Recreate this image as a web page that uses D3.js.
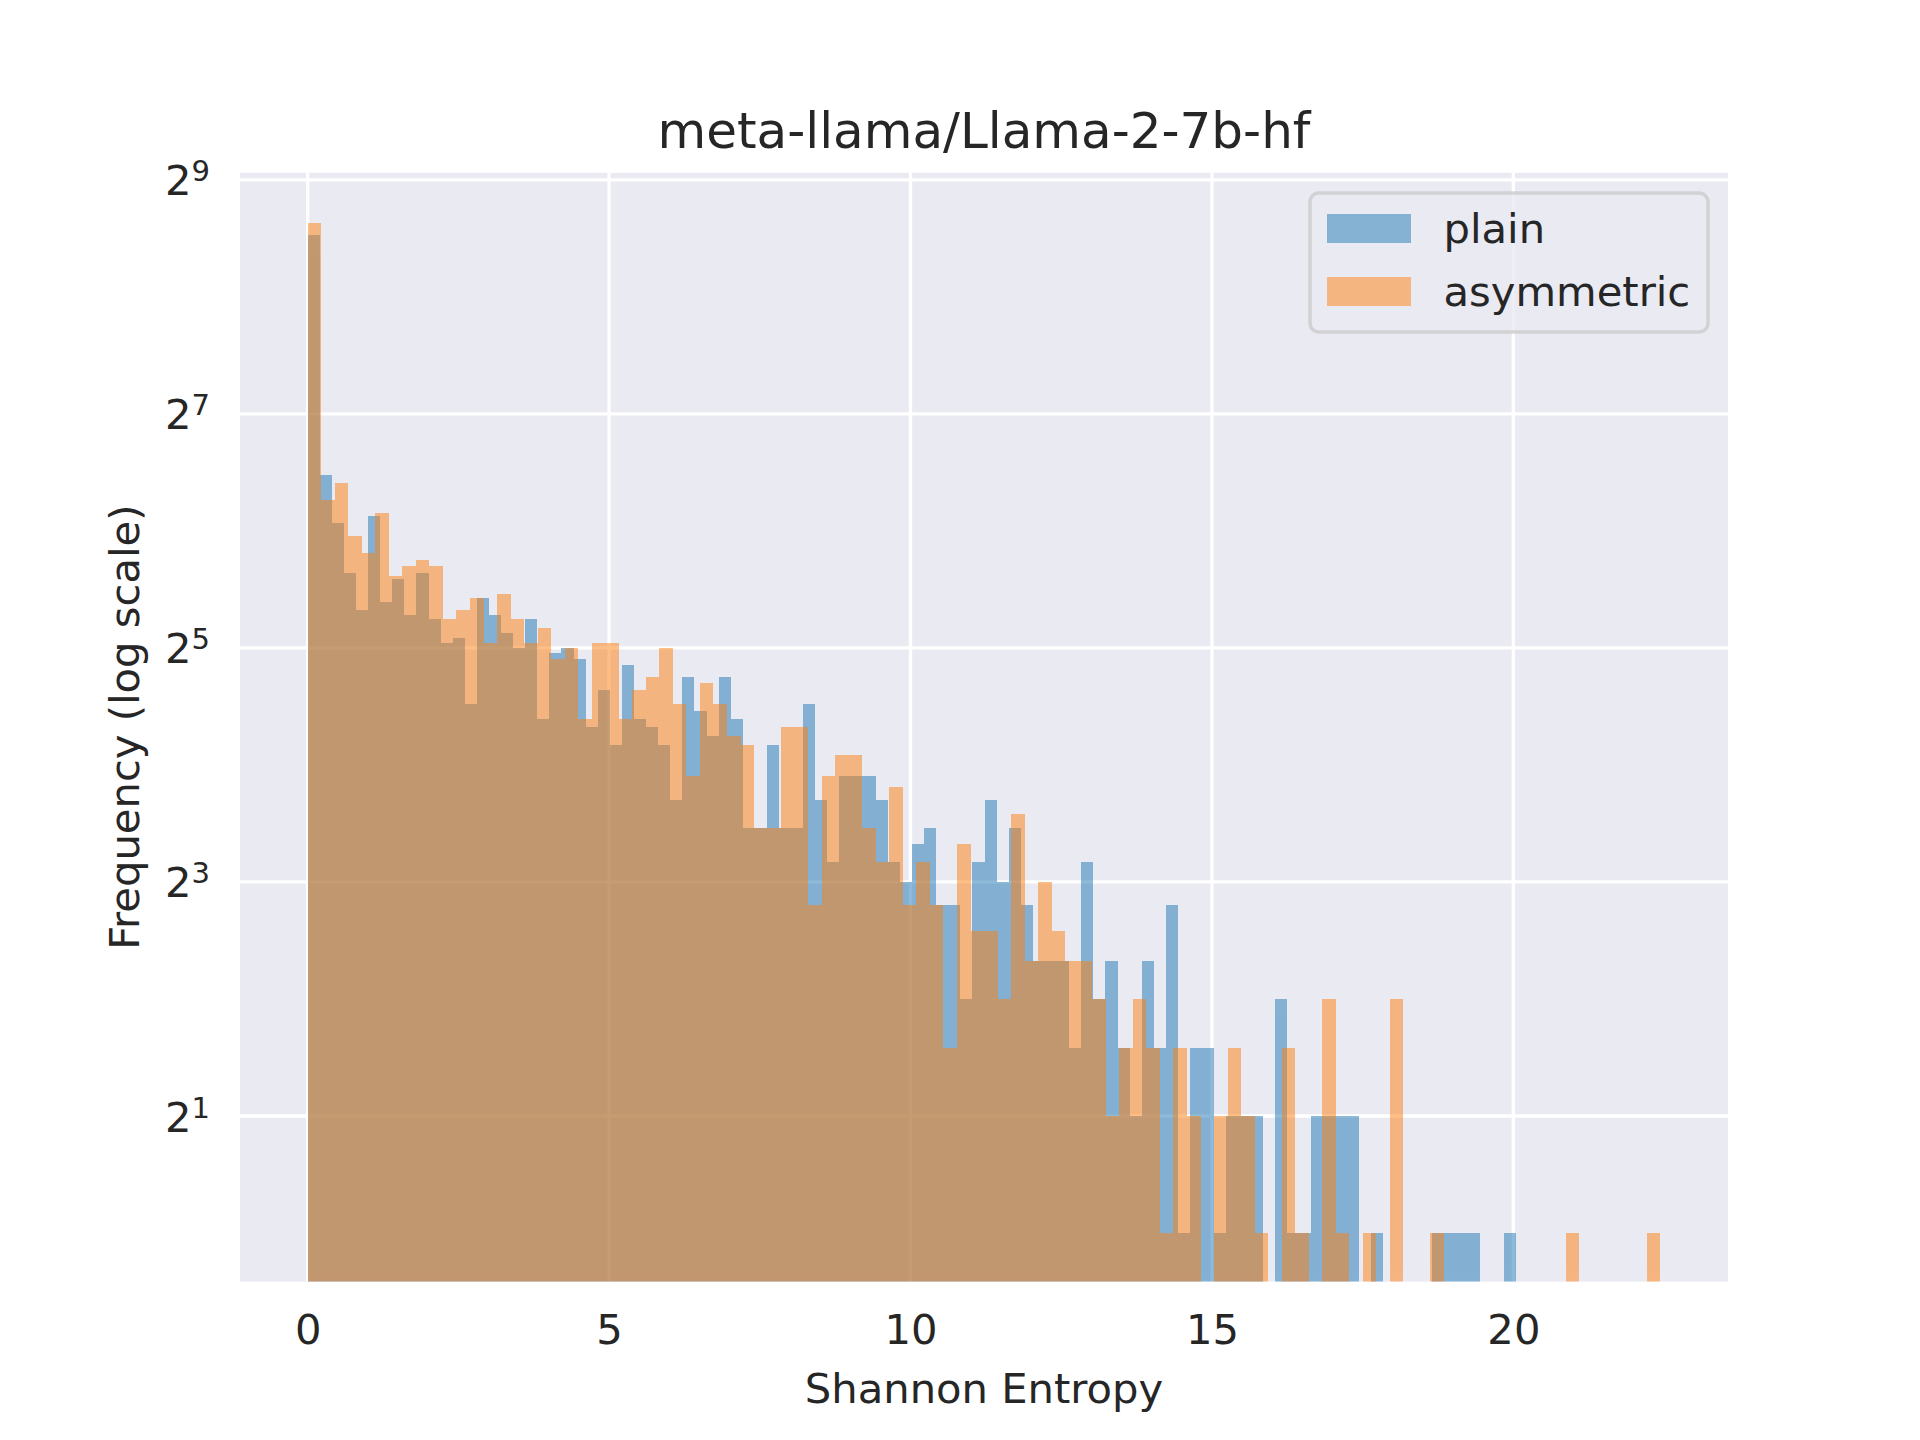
<!DOCTYPE html>
<html>
<head>
<meta charset="utf-8">
<script src="https://cdn.jsdelivr.net/npm/d3@7"></script>
<style>
  body { margin: 0; background: #ffffff; }
  svg { display: block; }
  text { font-family: "DejaVu Sans", sans-serif; fill: #262626; }
</style>
</head>
<body>
<svg id="chart" width="1920" height="1440"></svg>
<script>
// ---------------- data ----------------
const chartTitle = "meta-llama/Llama-2-7b-hf";
const xLabel = "Shannon Entropy";
const yLabel = "Frequency (log scale)";
const seriesNames = ["plain", "asymmetric"];

// histogram ranges (100 bins each)
const plainRange = [0, 20.05];
const asymmetricRange = [0, 22.44];

const plainCounts = [
  370, 89, 67, 50, 40, 70, 42, 48, 39, 50,
  38, 33, 34, 23, 43, 39, 35, 32, 38, 21,
  31, 32, 30, 20, 25, 18, 29, 21, 20, 18,
  13, 27, 22, 19, 27, 21, 11, 11, 18, 11,
  11, 23, 13, 9, 15, 15, 15, 13, 9, 8,
  10, 11, 7, 7, 4, 9, 13, 8, 11, 7,
  5, 5, 5, 3, 9, 4, 5, 3, 2, 5,
  3, 7, 1, 3, 3, 1, 2, 2, 2, 0,
  4, 1, 1, 2, 2, 2, 2, 0, 1, 0,
  0, 0, 0, 1, 1, 1, 1, 0, 0, 1
];

const asymmetricCounts = [
  397, 77, 85, 62, 56, 71, 49, 52, 54, 52,
  38, 40, 43, 33, 44, 38, 33, 36, 30, 32,
  21, 33, 33, 21, 25, 27, 32, 23, 15, 26,
  23, 19, 18, 11, 11, 20, 20, 7, 15, 17,
  17, 11, 9, 14, 7, 9, 7, 3, 10, 6,
  6, 4, 12, 5, 8, 6, 5, 5, 4, 2,
  3, 4, 3, 1, 3, 2, 0, 2, 3, 2,
  1, 0, 3, 1, 0, 4, 1, 0, 1, 0,
  4, 0, 0, 1, 0, 0, 0, 0, 0, 0,
  0, 0, 0, 1, 0, 0, 0, 0, 0, 1
];

const xTicks = [0, 5, 10, 15, 20];
const yTickExponents = [1, 3, 5, 7, 9];

// ---------------- layout ----------------
const W = 1920, H = 1440;
const pL = 240, pR = 1728, pT = 172.8, pB = 1281.6;
const colors = ["#1f77b4", "#ff7f0e"];

const svg = d3.select("#chart");
svg.append("rect").attr("width", W).attr("height", H).attr("fill", "#ffffff");

const x = d3.scaleLinear().domain([-1.122, 23.56]).range([pL, pR]);
const y = d3.scaleLog().base(2)
  .domain([Math.pow(2, -0.415), Math.pow(2, 9.06)])
  .range([pB, pT]);

svg.append("defs").append("clipPath").attr("id", "plotClip")
  .append("rect").attr("x", pL).attr("y", pT)
  .attr("width", pR - pL).attr("height", pB - pT);

// axes background
svg.append("rect")
  .attr("x", pL).attr("y", pT)
  .attr("width", pR - pL).attr("height", pB - pT)
  .attr("fill", "#eaeaf2");

// grid
const grid = svg.append("g").attr("clip-path", "url(#plotClip)");
grid.selectAll("line.vx").data(xTicks).join("line")
  .attr("class", "vx")
  .attr("x1", d => x(d)).attr("x2", d => x(d))
  .attr("y1", pT).attr("y2", pB)
  .attr("stroke", "#ffffff").attr("stroke-width", 3.3);
grid.selectAll("line.hy").data(yTickExponents).join("line")
  .attr("class", "hy")
  .attr("x1", pL).attr("x2", pR)
  .attr("y1", d => y(Math.pow(2, d))).attr("y2", d => y(Math.pow(2, d)))
  .attr("stroke", "#ffffff").attr("stroke-width", 3.3);

// histogram bins
function makeBins(range, counts) {
  const n = counts.length;
  const w = (range[1] - range[0]) / n;
  return counts.map((c, i) => ({ x0: range[0] + i * w, x1: range[0] + (i + 1) * w, count: c }));
}
const seriesBins = [makeBins(plainRange, plainCounts), makeBins(asymmetricRange, asymmetricCounts)];

const barsG = svg.append("g").attr("clip-path", "url(#plotClip)");
seriesBins.forEach((bins, si) => {
  const g = barsG.append("g").attr("opacity", 0.5).attr("fill", colors[si]);
  g.selectAll("rect").data(bins.filter(b => b.count > 0)).join("rect")
    .attr("x", d => x(d.x0))
    .attr("width", d => x(d.x1) - x(d.x0))
    .attr("y", d => y(d.count))
    .attr("height", d => pB - y(d.count))
    .attr("shape-rendering", "crispEdges");
});

// x axis
const xAxis = svg.append("g").attr("transform", `translate(0,${pB})`)
  .call(d3.axisBottom(x).tickValues(xTicks).tickSize(0).tickPadding(0).tickFormat(d3.format("d")));
xAxis.select(".domain").remove();
xAxis.selectAll("text")
  .attr("y", 62.7).attr("dy", null)
  .style("font-size", "41.7px").style("font-family", "DejaVu Sans").attr("fill", "#262626");

// y axis with superscript labels
const yAxis = svg.append("g").attr("transform", `translate(${pL},0)`)
  .call(d3.axisLeft(y).tickValues(yTickExponents.map(e => Math.pow(2, e))).tickSize(0).tickFormat(() => ""));
yAxis.select(".domain").remove();
yAxis.selectAll(".tick text").each(function(d) {
  const t = d3.select(this);
  t.attr("x", -30).attr("y", 15).attr("dy", null)
    .attr("text-anchor", "end").attr("fill", "#262626")
    .style("font-size", "41.7px").style("font-family", "DejaVu Sans");
  t.text(null);
  t.append("tspan").text("2");
  t.append("tspan").attr("dy", -14).style("font-size", "29px").text(Math.round(Math.log2(d)));
});

// labels
svg.append("text").attr("x", (pL + pR) / 2).attr("y", 148)
  .attr("text-anchor", "middle").style("font-size", "50px").text(chartTitle);
svg.append("text").attr("x", (pL + pR) / 2).attr("y", 1402.7)
  .attr("text-anchor", "middle").style("font-size", "41.7px").text(xLabel);
svg.append("text")
  .attr("transform", `translate(139,${(pT + pB) / 2}) rotate(-90)`)
  .attr("text-anchor", "middle").style("font-size", "41.7px").text(yLabel);

// legend
const leg = svg.append("g");
leg.append("rect")
  .attr("x", 1310).attr("y", 193).attr("width", 398).attr("height", 139)
  .attr("rx", 9).attr("ry", 9)
  .attr("fill", "#eaeaf2").attr("fill-opacity", 0.8)
  .attr("stroke", "#cccccc").attr("stroke-opacity", 0.8).attr("stroke-width", 3.5);
const legendRows = [
  { name: seriesNames[0], color: colors[0], handleY: 214, baseY: 242.7 },
  { name: seriesNames[1], color: colors[1], handleY: 277, baseY: 305.7 }
];
legendRows.forEach(r => {
  leg.append("rect").attr("x", 1327).attr("y", r.handleY).attr("width", 84).attr("height", 29)
    .attr("fill", r.color).attr("fill-opacity", 0.5);
  leg.append("text").attr("x", 1443.5).attr("y", r.baseY)
    .style("font-size", "41.7px").text(r.name);
});
</script>
</body>
</html>
